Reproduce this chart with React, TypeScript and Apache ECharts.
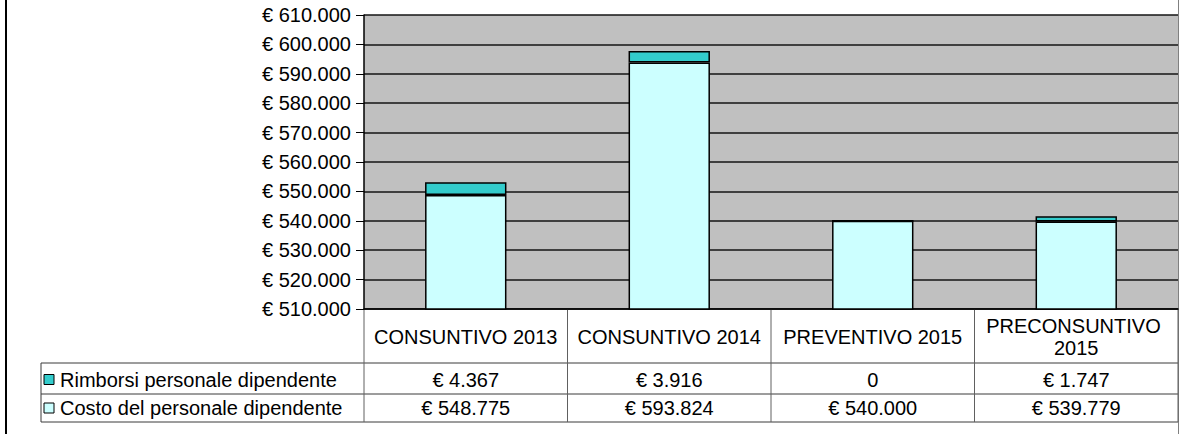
import React, { useEffect, useRef } from 'react';
import * as echarts from 'echarts';

// ---- data ----
const categories = ['CONSUNTIVO 2013', 'CONSUNTIVO 2014', 'PREVENTIVO 2015', 'PRECONSUNTIVO 2015'];
const rimborsi = [4367, 3916, 0, 1747];
const costo = [548775, 593824, 540000, 539779];
const seriesNames = ['Rimborsi personale dipendente', 'Costo del personale dipendente'];
const yMin = 510000;
const yMax = 610000;
const yInterval = 10000;

// ---- helpers / styling ----
const fmt = (v: number) => String(Math.round(v)).replace(/\B(?=(\d{3})+(?!\d))/g, '.');
const euro = (v: number) => (v === 0 ? '0' : '€ ' + fmt(v));

const W = 1180;
const H = 434;
const GRID = { left: 364, right: 2, top: 15, bottom: 125 };
const FONT_FAMILY = '"Liberation Sans", Arial, sans-serif';
const FS = 20;
const FONT = `${FS}px "Liberation Sans", Arial, sans-serif`;
const COL_COSTO = '#CCFFFF';
const COL_RIMB = '#33CCCC';
const TABLE_LINE = '#3a3a3a';
const HEADER_H = 54;
const ROW_H = [31, 28];
const LEGEND_LEFT = 41;

function txt(text: string, x: number, y: number, align: string) {
  return {
    type: 'text',
    x,
    y,
    silent: true,
    style: {
      text,
      fill: '#000',
      font: FONT,
      align,
      verticalAlign: 'middle',
      textAlign: align,
      textVerticalAlign: 'middle',
    },
  };
}

function line(x1: number, y1: number, x2: number, y2: number, stroke: string, lineWidth: number) {
  return { type: 'line', silent: true, shape: { x1, y1, x2, y2 }, style: { stroke, lineWidth } };
}

export default function App() {
  const ref = useRef<HTMLDivElement>(null);

  useEffect(() => {
    document.body.style.margin = '0';
    const chart = echarts.init(ref.current!, null, { renderer: 'svg' });
    const option: any = {
      animation: false,
      backgroundColor: '#ffffff',
      grid: { ...GRID, show: true, backgroundColor: '#C0C0C0', borderWidth: 0 },
      xAxis: {
        type: 'category',
        data: categories,
        axisLine: { show: true, lineStyle: { color: '#000', width: 1.5 } },
        axisTick: { show: false },
        axisLabel: {
          interval: 0,
          margin: HEADER_H / 2 + 1,
          verticalAlign: 'middle',
          align: 'center',
          width: 195,
          overflow: 'break',
          lineHeight: 22,
          color: '#000',
          fontFamily: FONT_FAMILY,
          fontSize: FS,
        },
        splitLine: { show: false },
      },
      yAxis: {
        type: 'value',
        min: yMin,
        max: yMax,
        interval: yInterval,
        axisLine: { show: true, lineStyle: { color: '#000', width: 1.5 } },
        axisTick: { show: true, length: 8, lineStyle: { color: '#000', width: 1 } },
        axisLabel: {
          formatter: (v: number) => euro(v),
          margin: 13,
          color: '#000',
          fontFamily: FONT_FAMILY,
          fontSize: FS,
        },
        splitLine: { show: true, lineStyle: { color: '#141414', width: 1.6 } },
      },
      series: [
        {
          name: seriesNames[1],
          type: 'bar',
          stack: 'tot',
          data: costo,
          barWidth: '40%',
          itemStyle: { color: COL_COSTO, borderColor: '#000', borderWidth: 1.5 },
        },
        {
          name: seriesNames[0],
          type: 'bar',
          stack: 'tot',
          data: rimborsi,
          barWidth: '40%',
          itemStyle: { color: COL_RIMB, borderColor: '#000', borderWidth: 1.5 },
        },
      ],
    };
    chart.setOption(option);

    // ---- data table below the plot, positioned from the axes ----
    const c0 = chart.convertToPixel({ xAxisIndex: 0 }, 0) as number;
    const c1 = chart.convertToPixel({ xAxisIndex: 0 }, 1) as number;
    const band = c1 - c0;
    const yBase = chart.convertToPixel({ yAxisIndex: 0 }, yMin) as number;
    const left = c0 - band / 2;
    const right = left + band * categories.length;
    const r0 = yBase + HEADER_H;
    const r1 = r0 + ROW_H[0];
    const r2 = r1 + ROW_H[1];

    const els: any[] = [];
    // outer chart-area borders
    els.push(line(6, 0, 6, H, '#000', 2));
    els.push(line(W - 1.5, 0, W - 1.5, H, '#808080', 1));
    // horizontal table lines
    [r0, r1, r2].forEach((y) => els.push(line(LEGEND_LEFT, y, right, y, TABLE_LINE, 1)));
    // legend column left edge
    els.push(line(LEGEND_LEFT, r0, LEGEND_LEFT, r2, TABLE_LINE, 1));
    // category dividers
    for (let i = 0; i <= categories.length; i++) {
      const x = left + band * i;
      els.push(line(x, yBase, x, r2, '#606060', 1));
    }
    // legend keys + names, values
    const rows = [
      { name: seriesNames[0], color: COL_RIMB, values: rimborsi, yc: (r0 + r1) / 2 + 1 },
      { name: seriesNames[1], color: COL_COSTO, values: costo, yc: (r1 + r2) / 2 },
    ];
    rows.forEach((row) => {
      els.push({
        type: 'rect',
        silent: true,
        shape: { x: LEGEND_LEFT + 3, y: row.yc - 5, width: 10, height: 10 },
        style: { fill: row.color, stroke: '#000', lineWidth: 1 },
      });
      els.push(txt(row.name, LEGEND_LEFT + 19, row.yc, 'left'));
      row.values.forEach((v, i) => {
        const cx = chart.convertToPixel({ xAxisIndex: 0 }, i) as number;
        els.push(txt(euro(v), cx, row.yc, 'center'));
      });
    });
    chart.setOption({ graphic: { elements: els } });

    return () => chart.dispose();
  }, []);

  return (
    <div
      ref={ref}
      style={{ position: 'absolute', left: 0, top: 0, width: W, height: H, background: '#fff' }}
    />
  );
}
